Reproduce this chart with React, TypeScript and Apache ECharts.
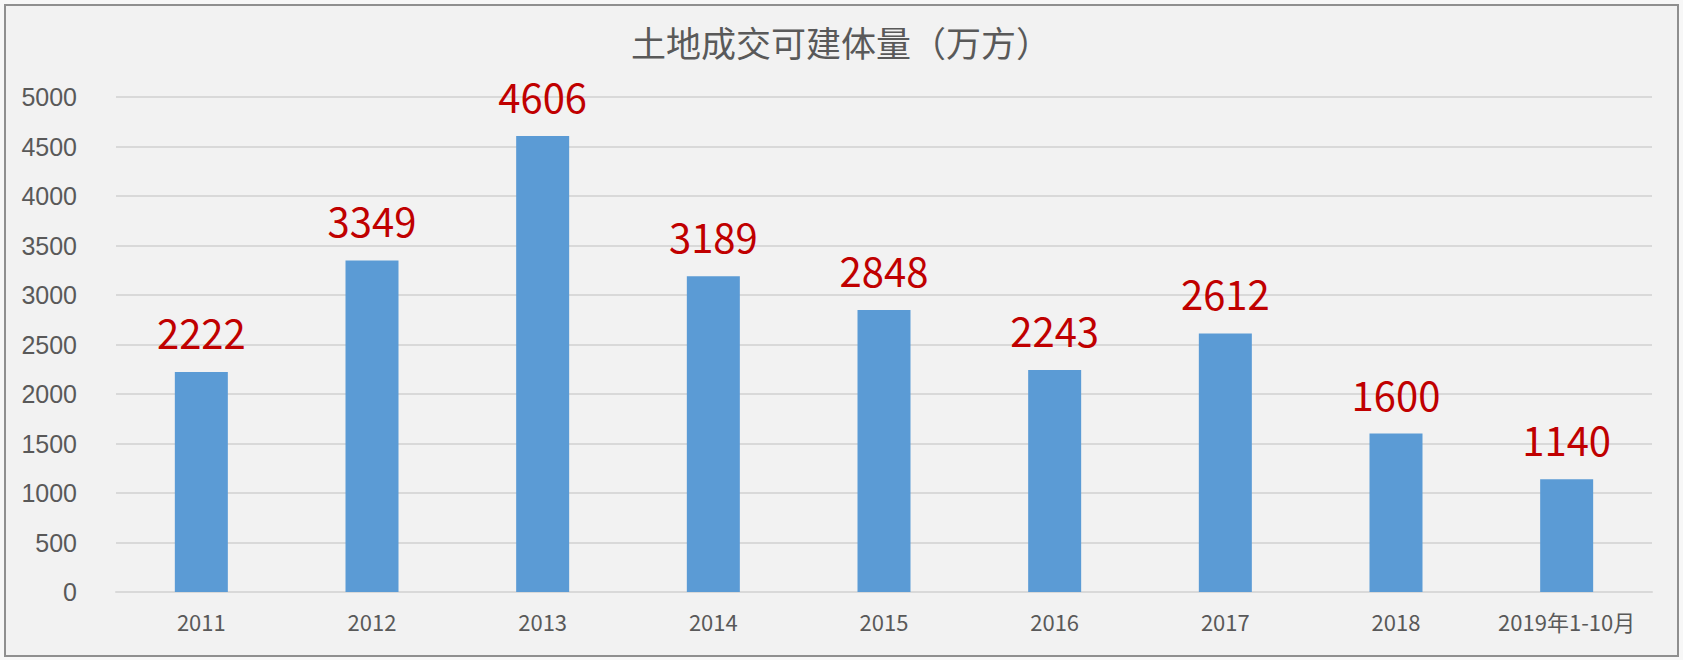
import React, { useEffect, useRef } from "react";
import * as echarts from "echarts";

const categories = ["2011", "2012", "2013", "2014", "2015", "2016", "2017", "2018", "2019年1-10月"];
const values = [2222, 3349, 4606, 3189, 2848, 2243, 2612, 1600, 1140];
const titleText = "土地成交可建体量（万方）";

export default function App() {
  const ref = useRef<HTMLDivElement>(null);
  useEffect(() => {
    if (!ref.current) return;
    const chart = echarts.init(ref.current, undefined, { renderer: "svg" });
    chart.setOption({
      animation: false,
      backgroundColor: "#f7f7f7",
      graphic: [
        {
          type: "rect",
          z: -10,
          silent: true,
          shape: { x: 5, y: 5, width: 1673, height: 651 },
          style: { fill: "#f2f2f2", stroke: "#8f8f8f", lineWidth: 2 },
        },
      ],
      title: {
        text: titleText,
        left: 841,
        textAlign: "center",
        top: 24,
        padding: 0,
        textStyle: {
          fontFamily: "Noto Sans CJK SC",
          fontSize: 35,
          fontWeight: "normal",
          color: "#595959",
        },
      },
      grid: { left: 116, right: 31, top: 97, bottom: 68, containLabel: false },
      xAxis: {
        type: "category",
        data: categories,
        axisLine: { show: true, lineStyle: { color: "#d9d9d9", width: 2 } },
        axisTick: { show: false },
        axisLabel: {
          margin: 18,
          fontSize: 22,
          color: "#595959",
          fontFamily: "Noto Sans CJK SC",
          interval: 0,
        },
      },
      yAxis: {
        type: "value",
        min: 0,
        max: 5000,
        interval: 500,
        axisLine: { show: false },
        axisTick: { show: false },
        splitLine: { lineStyle: { color: "#d9d9d9", width: 2 } },
        axisLabel: {
          margin: 39,
          fontSize: 25,
          color: "#595959",
          fontFamily: "Liberation Sans",
          formatter: (v: number) => String(v),
        },
      },
      series: [
        {
          type: "bar",
          data: values,
          barWidth: 53,
          itemStyle: { color: "#5b9bd5" },
          label: {
            show: true,
            position: "top",
            distance: 20,
            fontSize: 40,
            color: "#c00000",
            fontFamily: "Noto Sans CJK SC",
          },
        },
      ],
    });
    return () => chart.dispose();
  }, []);
  return (
    <div
      ref={ref}
      style={{ position: "absolute", left: 0, top: 0, width: 1683, height: 660 }}
    />
  );
}
